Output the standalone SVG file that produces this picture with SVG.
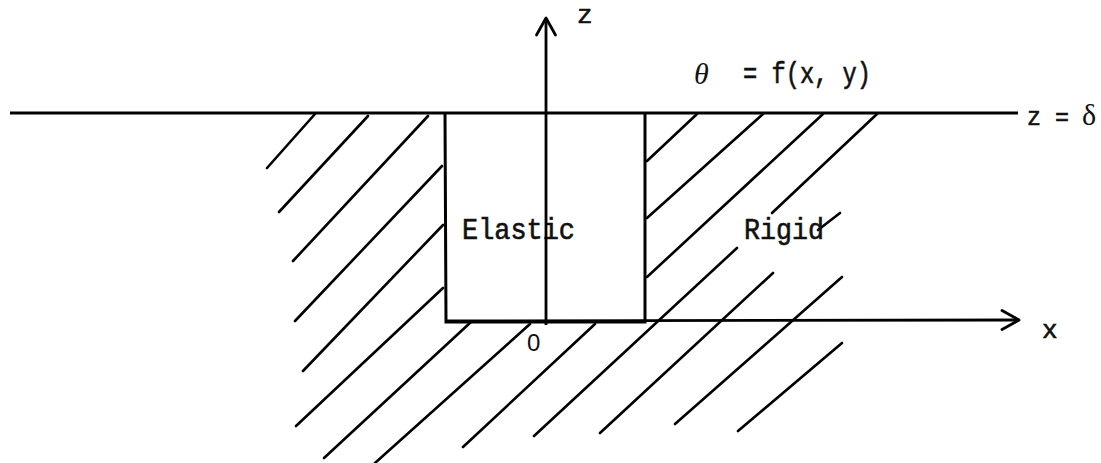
<svg xmlns="http://www.w3.org/2000/svg" width="1101" height="463" viewBox="0 0 1101 463">
<style>
.ln{stroke:#000;stroke-width:2.6;fill:none;stroke-linecap:round}
.bx{stroke:#000;stroke-width:3;fill:none}
.ax{stroke:#000;stroke-width:2.8;fill:none}
.tw{font-family:"Liberation Mono","DejaVu Sans Mono",monospace;fill:#111;stroke:#111;stroke-width:0.6}
</style>
<defs>
<marker id="arr" markerUnits="userSpaceOnUse" viewBox="-25 -15 30 30" refX="0" refY="0" markerWidth="30" markerHeight="30" orient="auto" overflow="visible">
<path d="M -17 -9.5 L 0 0 L -17 9.5" fill="none" stroke="#000" stroke-width="2.8" stroke-linecap="round" stroke-linejoin="round"/>
</marker>
</defs>
<rect width="1101" height="463" fill="#fff"/>
<g id="hatch" class="ln">
<line x1="315" y1="114" x2="267" y2="168"/>
<line x1="368" y1="116" x2="279" y2="212"/>
<line x1="428" y1="116" x2="293" y2="261"/>
<line x1="442" y1="166" x2="295" y2="321"/>
<line x1="443" y1="225" x2="303" y2="371"/>
<line x1="443" y1="288" x2="296" y2="426"/>
<line x1="471" y1="322" x2="324" y2="458"/>
<line x1="530" y1="324" x2="375" y2="463"/>
<line x1="595" y1="324" x2="463" y2="447"/>
<line x1="697" y1="114" x2="647" y2="161"/>
<line x1="763" y1="114" x2="647" y2="218"/>
<line x1="823" y1="114" x2="647" y2="277"/>
<line x1="877" y1="114" x2="772" y2="213"/>
<line x1="840" y1="213" x2="818" y2="230"/>
<line x1="737" y1="248" x2="534" y2="436"/>
<line x1="773" y1="273" x2="600" y2="433"/>
<line x1="842" y1="277" x2="675" y2="424"/>
<line x1="842" y1="343" x2="738" y2="431"/>
</g>
<g id="surface">
<line class="ax" x1="10" y1="113" x2="1018" y2="113"/>
</g>
<g id="elastic-block">
<polyline class="bx" points="445,113 446,322 645,322 645,113"/>
<text class="tw" x="462" y="239" font-size="29" textLength="113" lengthAdjust="spacingAndGlyphs">Elastic</text>
</g>
<g id="rigid-label">
<text class="tw" x="744" y="239" font-size="29" textLength="80" lengthAdjust="spacingAndGlyphs">Rigid</text>
</g>
<g id="connectors">
<line class="ax" x1="546" y1="325" x2="546" y2="18" marker-end="url(#arr)"/>
<line class="ax" x1="446" y1="321" x2="1019" y2="320" marker-end="url(#arr)"/>
</g>
<g id="labels">
<text class="tw" x="577" y="23" font-size="26">z</text>
<text x="694" y="84" font-family="Liberation Serif,serif" font-style="italic" font-size="30" fill="#111">θ</text>
<text class="tw" x="743" y="83" font-size="29" textLength="128" lengthAdjust="spacingAndGlyphs">= f(x, y)</text>
<text class="tw" x="1027" y="125" font-size="26" textLength="42" lengthAdjust="spacingAndGlyphs">z =</text>
<text x="1082" y="125" font-family="Liberation Serif,serif" font-size="30" fill="#111">δ</text>
<text class="tw" x="1042" y="338" font-size="26">x</text>
<text x="527" y="351" font-family="Liberation Sans,sans-serif" font-size="24" fill="#111">0</text>
</g>
</svg>
